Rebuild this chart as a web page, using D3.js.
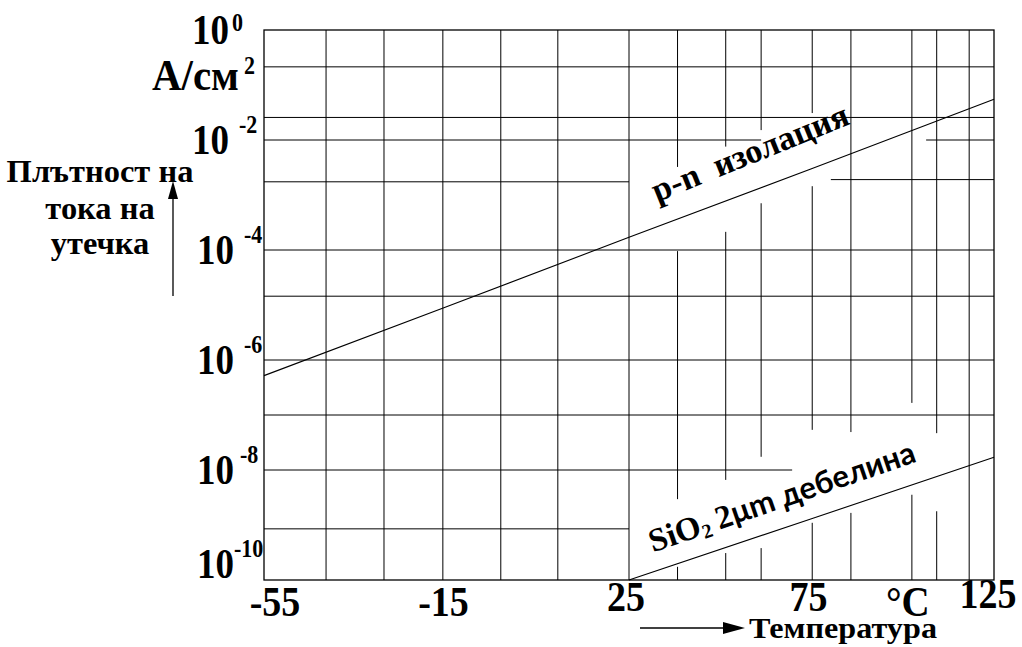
<!DOCTYPE html>
<html lang="bg">
<head>
<meta charset="UTF-8">
<title>Плътност на тока на утечка</title>
<script src="https://d3js.org/d3.v7.min.js"></script>
<style>
  body { margin: 0; background: #fff; }
  svg { display: block; }
  text { font-family: "Liberation Serif", "Times New Roman", serif; font-weight: bold; fill: #000; }
  .grid line { stroke: #000; stroke-width: 1; }
  .curve { fill: none; stroke: #000; stroke-width: 1.1; }
</style>
</head>
<body>
<svg width="1022" height="647"></svg>
<script>
// temperature ticks (°C) and decade labels
const xTicks = [-55, -15, 25, 75, 125];
const yExps = [0, -2, -4, -6, -8, -10];

// leakage current density, A/cm² at the tick temperatures
const pnTemps = [-55, -15, 25, 75, 125];
const pnValues = [5.2e-7, 9.3e-6, 1.7e-4, 3.0e-3, 5.5e-2];
const oxTemps = [25, 75, 125];
const oxValues = [1e-10, 1.3e-9, 1.7e-8];

// vertical grid lines: [temperature, fromExp, toExp]
const vGrid = [
  [-41.4, 0, -10], [-28.7, 0, -10], [-15.8, 0, -10], [-3.1, 0, -10], [9.4, 0, -10], [25, 0, -10],
  [38.3, 0, -2.49], [38.3, -4.02, -8.53], [38.3, -9.76, -10],
  [51.5, 0, -2.12], [51.5, -3.67, -8.18], [51.5, -9.51, -10],
  [61.2, 0, -1.82], [61.2, -3.15, -7.76], [61.2, -9.42, -10],
  [75.2, 0, -1.51], [75.2, -2.84, -7.27], [75.2, -8.96, -10],
  [85.8, 0, -7.31], [85.8, -8.78, -10],
  [102.5, 0, -6.78], [102.5, -8.45, -10],
  [109.3, 0, -7.33], [109.3, -8.75, -10],
  [118.2, 0, -10]
];
// horizontal grid lines: [exponent, fromTemp, toTemp]
const hGrid = [
  [-0.67, -55, 125], [-1.59, -55, 125],
  [-2, -55, 61.2], [-2, 106.4, 125],
  [-2.76, -55, 25], [-2.72, 80.3, 125],
  [-4, -55, 125], [-4.84, -55, 125], [-6, -55, 125], [-7, -55, 125],
  [-8, -55, 69.7], [-9.07, -55, 25]
];

const mLeft = 264, mRight = 994, mTop = 30, mBottom = 580;
const svg = d3.select('svg');

const x = d3.scaleLinear()
  .domain(xTicks)
  .range(xTicks.map((d, i) => mLeft + i * (mRight - mLeft) / (xTicks.length - 1)));
const y = d3.scaleLog().domain([1e-10, 1]).range([mBottom, mTop]);
const ye = e => y(Math.pow(10, e));

// tall bold label, like the stretched Times of the original
function label(px, py, str, size, anchor, sy, sx) {
  return svg.append('text')
    .attr('transform', `translate(${px},${py}) scale(${sx || 1},${sy || 1.13})`)
    .attr('text-anchor', anchor || 'start')
    .style('font-size', size + 'px')
    .text(str);
}

// grid
const grid = svg.append('g').attr('class', 'grid');
grid.selectAll('line.v').data(vGrid).enter().append('line')
  .attr('x1', d => x(d[0])).attr('x2', d => x(d[0]))
  .attr('y1', d => ye(d[1])).attr('y2', d => ye(d[2]));
grid.selectAll('line.h').data(hGrid).enter().append('line')
  .attr('x1', d => x(d[1])).attr('x2', d => x(d[2]))
  .attr('y1', d => ye(d[0])).attr('y2', d => ye(d[0]));

// frame
svg.append('rect')
  .attr('x', mLeft).attr('y', mTop)
  .attr('width', mRight - mLeft).attr('height', mBottom - mTop)
  .attr('fill', 'none').attr('stroke', '#000').attr('stroke-width', 1.3);

// curves
const line = d3.line().x(d => x(d[0])).y(d => y(d[1]));
svg.append('path').attr('class', 'curve')
  .attr('d', line(pnTemps.map((t, i) => [t, pnValues[i]])));
svg.append('path').attr('class', 'curve')
  .attr('d', line(oxTemps.map((t, i) => [t, oxValues[i]])));

// y tick labels
yExps.forEach(e => {
  const yy = Math.min(ye(e) + 14, 578);
  const xr = e > -4 ? 229 : 234;
  label(xr, yy, '10', 37, 'end');
  const gap = e === -10 ? 0 : (e === 0 ? 3 : (e === -8 ? 6 : 10));
  label(xr + gap, yy - (e === 0 ? 13 : 21), e === 0 ? '0' : String(e), 22, 'start', 1.1);
});

// unit
label(239, 90, 'А/см', 39, 'end', 1.13, 1.05);
label(244, 74, '2', 22, 'start', 1.1);

// x tick labels
xTicks.forEach((t, i) => {
  const dx = i === 0 ? 11 : (i === xTicks.length - 1 ? -6 : -3);
  label(x(t) + dx, i < 2 ? 616 : (i === 4 ? 608 : 611), String(t), 38, 'middle', 1.1);
});
label(886, 616, '°C', 39, 'start', 1.1);

// x axis title with arrow
svg.append('line').attr('x1', 640).attr('x2', 728).attr('y1', 628).attr('y2', 628)
  .attr('stroke', '#000').attr('stroke-width', 1.3);
svg.append('path').attr('d', 'M745,628 L723,622 L723,634 Z').attr('fill', '#000');
label(749, 638, 'Температура', 28, 'start', 1.05, 1.15);

// y axis title with arrow
['Плътност на', 'тока на', 'утечка'].forEach((s, i) => {
  label(100, [182, 219, 254][i], s, 29, 'middle', 1.1, 1.12);
});
svg.append('line').attr('x1', 173).attr('x2', 173).attr('y1', 296).attr('y2', 196)
  .attr('stroke', '#000').attr('stroke-width', 1.3);
svg.append('path').attr('d', 'M173,181 L168,199 L178,199 Z').attr('fill', '#000');

// curve labels
svg.append('text')
  .attr('transform', `translate(${x(32.7)},${ye(-3.13)}) rotate(-22)`)
  .style('font-family', '"Liberation Serif", "Times New Roman", serif')
  .style('font-size', '34px').style('white-space', 'pre')
  .text('p-n  изолация');

const ox = svg.append('text')
  .attr('transform', `translate(${x(31.6)},${ye(-9.5)}) rotate(-19)`)
  .style('font-family', '"Liberation Serif", "Times New Roman", serif')
  .style('font-size', '33px');
ox.append('tspan').text('SiO');
ox.append('tspan').attr('dy', 4).style('font-size', '20px').text('2');
ox.append('tspan').attr('dy', -4).attr('dx', 7).text('2');
ox.append('tspan').style('font-family', 'Lato, "Open Sans", sans-serif')
  .style('font-size', '31px').text('μm дебелина');
</script>
</body>
</html>
